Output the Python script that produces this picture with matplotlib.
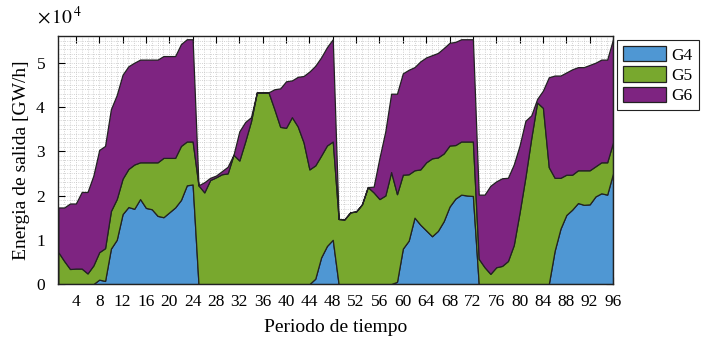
import matplotlib
matplotlib.use('Agg')
import matplotlib.pyplot as plt
import numpy as np
from matplotlib.ticker import ScalarFormatter, MultipleLocator

# periods 1..96
periodo = np.arange(1, 97)

# output per generator (x10^4 GW/h)
g4 = [0, 0, 0, 0, 0, 0, 0, 0.10, 0.07, 0.80, 1.00, 1.58, 1.74, 1.70, 1.92, 1.72,
      1.69, 1.54, 1.51, 1.62, 1.73, 1.90, 2.23, 2.25,
      0, 0, 0, 0, 0, 0, 0, 0, 0, 0, 0, 0, 0, 0, 0, 0,
      0, 0, 0, 0, 0.12, 0.60, 0.86, 1.00,
      0, 0, 0, 0, 0, 0, 0, 0, 0, 0, 0.05, 0.80, 0.98, 1.50, 1.34, 1.21,
      1.08, 1.20, 1.42, 1.75, 1.93, 2.02, 2.00, 1.99,
      0, 0, 0, 0, 0, 0, 0, 0, 0, 0, 0, 0, 0, 0.75, 1.25, 1.56,
      1.68, 1.83, 1.79, 1.80, 1.98, 2.05, 2.02, 2.50]
g5 = [0.72, 0.52, 0.34, 0.35, 0.35, 0.24, 0.42, 0.62, 0.74, 0.85, 0.92, 0.80,
      0.86, 1.00, 0.83, 1.03, 1.06, 1.21, 1.34, 1.23, 1.12, 1.22, 0.99, 0.97,
      2.23, 2.07, 2.35, 2.41, 2.48, 2.50, 2.92, 2.79, 3.22, 3.68, 4.33, 4.33,
      4.33, 3.95, 3.55, 3.53, 3.77, 3.56, 3.20, 2.59, 2.56, 2.30, 2.27, 2.22,
      1.47, 1.46, 1.62, 1.64, 1.80, 2.19, 2.07, 1.92, 2.00, 2.53, 1.98, 1.67,
      1.50, 1.07, 1.25, 1.54, 1.76, 1.66, 1.53, 1.38, 1.21, 1.20, 1.22, 1.23,
      0.57, 0.38, 0.23, 0.38, 0.41, 0.52, 0.88, 1.62, 2.42, 3.30, 4.10, 3.98,
      2.64, 1.65, 1.15, 0.91, 0.79, 0.74, 0.78, 0.77, 0.68, 0.70, 0.73, 0.70]
g6 = [1.01, 1.21, 1.48, 1.47, 1.73, 1.84, 2.03, 2.31, 2.31, 2.30, 2.35, 2.35,
      2.32, 2.30, 2.32, 2.32, 2.32, 2.32, 2.30, 2.30, 2.30, 2.30, 2.31, 2.31,
      0.00, 0.23, 0.05, 0.04, 0.07, 0.15, 0.00, 0.66, 0.44, 0.09, 0.00, 0.00,
      0.00, 0.45, 0.87, 1.05, 0.83, 1.12, 1.50, 2.21, 2.25, 2.22, 2.22, 2.31,
      0.00, 0.00, 0.00, 0.00, 0.00, 0.00, 0.13, 0.93, 1.45, 1.77, 2.27, 2.29,
      2.36, 2.33, 2.44, 2.37, 2.33, 2.36, 2.38, 2.32, 2.33, 2.31, 2.31, 2.31,
      1.45, 1.64, 1.99, 1.94, 1.98, 1.88, 1.82, 1.51, 1.27, 0.51, 0.08, 0.39,
      2.03, 2.31, 2.31, 2.31, 2.38, 2.33, 2.33, 2.38, 2.34, 2.32, 2.32, 2.33]
labels = ['G4', 'G5', 'G6']
colors = ['#4f97d3', '#78a82e', '#7e2481']

escala = 1e4
series = [np.array(s) * escala for s in (g4, g5, g6)]

plt.rcParams['font.family'] = ['Liberation Serif', 'DejaVu Serif']
plt.rcParams['mathtext.fontset'] = 'stix'

fig = plt.figure(figsize=(7.03, 3.41), dpi=100)
ax = fig.add_axes([0.083, 0.167, 0.789, 0.727])

ax.stackplot(periodo, *series, labels=labels, colors=colors,
             edgecolor='#222222', linewidth=0.9)

ax.set_xlim(1, 96)
ax.set_ylim(0, 5.6e4)
ax.set_xticks(np.arange(4, 97, 4))
ax.set_yticks(np.arange(0, 5.01e4, 1e4))
ax.xaxis.set_minor_locator(MultipleLocator(1))
ax.yaxis.set_minor_locator(MultipleLocator(0.1e4))

# ticks show 0..5, the exponent goes in a separate label
fmt = ScalarFormatter(useMathText=True)
fmt.set_powerlimits((0, 0))
ax.yaxis.set_major_formatter(fmt)
ax.yaxis.get_offset_text().set_visible(False)
fig.text(0.052, 0.918, r'$\times\,10^{\,4}$', fontsize=14, ha='left', va='bottom')

ax.grid(which='both', linestyle=':', color='#c4c4c4', linewidth=0.6)
ax.set_axisbelow(True)
ax.tick_params(which='major', direction='in', top=True, right=True,
               length=5, labelsize=12.5, width=0.8)
ax.tick_params(axis='x', pad=7)
ax.tick_params(axis='y', pad=9)
ax.tick_params(which='minor', length=0)
for s in ax.spines.values():
    s.set_linewidth(1.0)
    s.set_color('#222222')

ax.set_xlabel('Periodo de tiempo', fontsize=14, labelpad=7)
ax.set_ylabel('Energia de salida [GW/h]', fontsize=14, labelpad=4)

leg = ax.legend(loc='upper left', bbox_to_anchor=(1.007, 0.985), fontsize=12.5,
                fancybox=False, edgecolor='#222222', framealpha=1,
                handlelength=2.5, handleheight=1.0, borderaxespad=0,
                labelspacing=0.15, handletextpad=0.3, borderpad=0.35)
leg.get_frame().set_linewidth(0.8)

fig.savefig('out.png', dpi=100)
